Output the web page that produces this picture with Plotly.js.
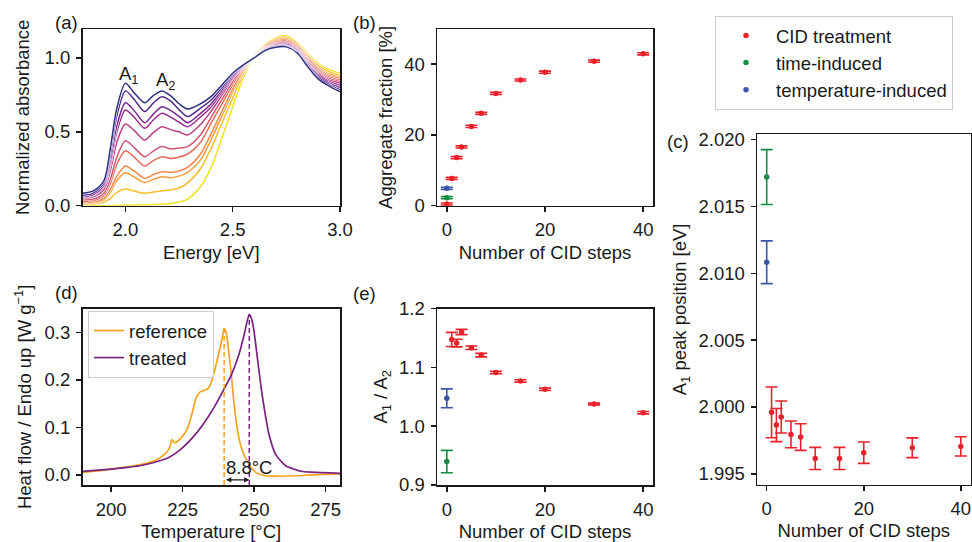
<!DOCTYPE html>
<html>
<head>
<meta charset="utf-8">
<script src="https://cdn.plot.ly/plotly-3.0.1.min.js"></script>
<style>
html,body{margin:0;padding:0;background:#fff;}
#chart{width:972px;height:542px;}
</style>
</head>
<body>
<div id="chart"></div>
<script>
// ---------------- DATA ----------------
// (a) absorbance spectra, one per number of CID steps
const energy = [1.80,1.85,1.90,1.93,1.96,2.00,2.04,2.09,2.13,2.17,2.21,2.25,2.29,2.35,2.40,2.45,2.50,2.55,2.60,2.65,2.70,2.75,2.80,2.85,2.90,2.95,3.00];
const absStep0  = [0.000,0.000,0.000,0.000,0.002,0.004,0.005,0.006,0.008,0.010,0.015,0.025,0.045,0.130,0.260,0.460,0.670,0.870,1.015,1.090,1.135,1.150,1.105,1.030,0.960,0.920,0.895];
const absStep1  = [0.010,0.012,0.025,0.050,0.090,0.113,0.100,0.084,0.092,0.100,0.107,0.120,0.155,0.250,0.390,0.560,0.730,0.895,1.012,1.085,1.128,1.140,1.098,1.020,0.948,0.905,0.880];
const absStep2  = [0.015,0.020,0.040,0.090,0.170,0.223,0.195,0.156,0.178,0.196,0.190,0.200,0.225,0.310,0.450,0.610,0.770,0.910,1.010,1.080,1.120,1.130,1.090,1.010,0.935,0.890,0.870];
const absStep3  = [0.020,0.025,0.050,0.110,0.200,0.269,0.235,0.185,0.210,0.230,0.225,0.235,0.260,0.350,0.490,0.640,0.790,0.920,1.008,1.075,1.113,1.122,1.082,1.000,0.925,0.880,0.860];
const absStep5  = [0.030,0.035,0.070,0.150,0.280,0.372,0.330,0.269,0.305,0.332,0.320,0.330,0.350,0.430,0.560,0.690,0.820,0.930,1.006,1.070,1.105,1.113,1.074,0.990,0.915,0.870,0.850];
const absStep7  = [0.040,0.045,0.085,0.180,0.330,0.440,0.395,0.332,0.370,0.400,0.385,0.390,0.400,0.480,0.600,0.720,0.840,0.935,1.005,1.065,1.098,1.105,1.066,0.980,0.905,0.860,0.840];
const absStep10 = [0.050,0.060,0.110,0.240,0.430,0.553,0.510,0.445,0.495,0.535,0.515,0.500,0.479,0.550,0.640,0.750,0.860,0.940,1.004,1.062,1.092,1.098,1.059,0.970,0.895,0.850,0.830];
const absStep15 = [0.055,0.070,0.130,0.280,0.500,0.648,0.600,0.524,0.580,0.625,0.600,0.565,0.535,0.600,0.670,0.770,0.870,0.945,1.003,1.058,1.086,1.091,1.052,0.960,0.885,0.840,0.815];
const absStep20 = [0.060,0.075,0.140,0.310,0.540,0.697,0.645,0.562,0.620,0.670,0.645,0.605,0.562,0.625,0.690,0.785,0.880,0.950,1.002,1.055,1.080,1.085,1.046,0.955,0.875,0.830,0.800];
const absStep30 = [0.070,0.085,0.155,0.350,0.610,0.777,0.720,0.637,0.695,0.738,0.710,0.650,0.603,0.660,0.715,0.800,0.890,0.950,1.001,1.052,1.076,1.080,1.040,0.945,0.865,0.820,0.785];
const absStep40 = [0.084,0.100,0.170,0.390,0.660,0.828,0.765,0.697,0.745,0.777,0.745,0.690,0.655,0.690,0.740,0.817,0.896,0.953,1.000,1.050,1.072,1.075,1.035,0.940,0.855,0.810,0.772];
const spectraColors = ['#f1e31f','#f9bd2a','#f89c3b','#f3864a','#e36c5d','#d1566f','#b93e83','#9b2c8f','#77268f','#502b8d','#2c2f82'];

// (b),(c),(e) CID treatment
const cidSteps      = [0,1,2,3,5,7,10,15,20,30,40];
const cidAggregate  = [0.47,7.7,13.6,16.6,22.4,26.1,31.7,35.5,37.7,40.8,42.9];
const cidAggErr     = [0.3,0.3,0.3,0.3,0.3,0.3,0.3,0.3,0.3,0.3,0.3];
const cidStepsPeak  = [1,2,3,5,7,10,15,20,30,40];
const cidA1Pos      = [1.9996,1.99865,1.99925,1.99795,1.99775,1.99615,1.99615,1.99658,1.99695,1.99705];
const cidA1PosErr   = [0.0019,0.00124,0.0012,0.0010,0.0010,0.00083,0.00083,0.0008,0.00074,0.00072];
const cidRatio      = [1.1476,1.1414,1.1602,1.1334,1.1209,1.0913,1.0770,1.0628,1.0378,1.0230];
const cidRatioErr   = [0.012,0.0065,0.0045,0.003,0.003,0.002,0.002,0.002,0.0015,0.002];
// time-induced
const timeStep = [0];
const timeAggregate = [2.26], timeAggErr = [0.3];
const timeA1Pos = [2.0172], timeA1PosErr = [0.00205];
const timeRatio = [0.9399], timeRatioErr = [0.019];
// temperature-induced
const tempStep = [0];
const tempAggregate = [4.9], tempAggErr = [0.3];
const tempA1Pos = [2.01083], tempA1PosErr = [0.0016];
const tempRatio = [1.0474], tempRatioErr = [0.016];

// (d) DSC heat flow
const refTemp = [190,195,200,205,210,213,216,218,219.5,220.4,221.3,222.2,223.2,225.1,226.8,228.5,229.7,230.9,232,233.2,234.3,235.5,236.7,237.8,238.9,239.5,240.2,240.9,241.9,243.0,244.2,245.9,248.2,250.5,254,258,265,270,275,280];
const refHeat = [0.005,0.008,0.012,0.016,0.021,0.025,0.032,0.040,0.048,0.057,0.074,0.067,0.070,0.082,0.099,0.134,0.162,0.173,0.177,0.179,0.185,0.204,0.232,0.260,0.290,0.308,0.300,0.270,0.218,0.148,0.092,0.050,0.022,0.005,-0.002,-0.003,-0.002,0.000,0.001,0.002];
const trtTemp = [190,200,205,210,215,220,224,228,232,236,239,242,244.5,246.5,247.5,248.3,249.2,250,251.7,253,255.2,257.5,261,264.4,267,272,280];
const trtHeat = [0.007,0.012,0.015,0.019,0.026,0.036,0.052,0.075,0.105,0.142,0.175,0.210,0.250,0.295,0.322,0.338,0.326,0.300,0.218,0.160,0.085,0.043,0.019,0.011,0.007,0.005,0.003];

// ---------------- STYLE ----------------
const RED = '#e8222b', GREEN = '#178a43', BLUE = '#3b57a6';
const ORANGE = '#f6a21e', PURPLE = '#7b2180';
const INK = '#1a1a1a';
const FS = 18.5;
const FONT = 'Liberation Sans, Arial, Helvetica, sans-serif';

const traces = [];
const spectra = [absStep0,absStep1,absStep2,absStep3,absStep5,absStep7,absStep10,absStep15,absStep20,absStep30,absStep40];
spectra.forEach((s,i)=>{
  traces.push({x:energy,y:s,xaxis:'x',yaxis:'y',mode:'lines',line:{color:'#ffffff',width:2.6,shape:'spline',smoothing:0.8},showlegend:false,hoverinfo:'skip'});
  traces.push({x:energy,y:s,xaxis:'x',yaxis:'y',mode:'lines',line:{color:spectraColors[i],width:1.5,shape:'spline',smoothing:0.8},showlegend:false});
});

function errScatter(x,y,err,color,xa,ya,name,legend){
  return {x:x,y:y,xaxis:xa,yaxis:ya,mode:'markers',name:name,
    marker:{color:color,size:5.5},
    error_y:{type:'data',array:err,visible:true,color:color,thickness:1.6,width:6},
    showlegend:!!legend,legend:'legend',legendgroup:name};
}
// (b)
traces.push(errScatter(cidSteps,cidAggregate,cidAggErr,RED,'x2','y2','CID treatment',true));
traces.push(errScatter(timeStep,timeAggregate,timeAggErr,GREEN,'x2','y2','time-induced',true));
traces.push(errScatter(tempStep,tempAggregate,tempAggErr,BLUE,'x2','y2','temperature-induced',true));
// (c)
traces.push(errScatter(cidStepsPeak,cidA1Pos,cidA1PosErr,RED,'x3','y3','CID treatment',false));
traces.push(errScatter(timeStep,timeA1Pos,timeA1PosErr,GREEN,'x3','y3','time-induced',false));
traces.push(errScatter(tempStep,tempA1Pos,tempA1PosErr,BLUE,'x3','y3','temperature-induced',false));
// (e)
traces.push(errScatter(cidStepsPeak,cidRatio,cidRatioErr,RED,'x5','y5','CID treatment',false));
traces.push(errScatter(timeStep,timeRatio,timeRatioErr,GREEN,'x5','y5','time-induced',false));
traces.push(errScatter(tempStep,tempRatio,tempRatioErr,BLUE,'x5','y5','temperature-induced',false));

// (d)
const dRange = [-0.0215,0.350];
function peak(t,h){let k=0;h.forEach((v,i)=>{if(v>h[k])k=i;});return [t[k],h[k]];}
const [refPkT,refPkH] = peak(refTemp,refHeat);
const [trtPkT,trtPkH] = peak(trtTemp,trtHeat);
traces.push({x:refTemp,y:refHeat,xaxis:'x4',yaxis:'y4',mode:'lines',name:'reference',line:{color:ORANGE,width:1.7,shape:'spline',smoothing:0.6},legend:'legend2'});
traces.push({x:trtTemp,y:trtHeat,xaxis:'x4',yaxis:'y4',mode:'lines',name:'treated',line:{color:PURPLE,width:1.7,shape:'spline',smoothing:0.6},legend:'legend2'});
traces.push({x:[refPkT,refPkT],y:[dRange[0],refPkH],xaxis:'x4',yaxis:'y4',mode:'lines',line:{color:ORANGE,width:1.5,dash:'5px,3px'},showlegend:false});
traces.push({x:[trtPkT,trtPkT],y:[dRange[0],trtPkH],xaxis:'x4',yaxis:'y4',mode:'lines',line:{color:PURPLE,width:1.5,dash:'5px,3px'},showlegend:false});

// ---------------- LAYOUT ----------------
const W=972,H=542;
const px=(x)=>x/W, py=(y)=>1-y/H;
function ax(dom, extra){
  return Object.assign({domain:dom,showline:true,mirror:true,linecolor:INK,linewidth:1.5,
    ticks:'outside',ticklen:5,tickwidth:1.5,tickcolor:INK,showgrid:false,zeroline:false,
    tickfont:{size:FS,color:INK,family:FONT},ticklabelstandoff:2,fixedrange:true},extra);
}
function ttl(t,standoff){return {text:t,font:{size:FS,color:INK,family:FONT},standoff:standoff};}

const xa = [px(82.5),px(340)], xb=[px(437),px(653)], xc=[px(757),px(970.5)];
const yTop=[py(205.7),py(29)], yBot=[py(485),py(308.6)], yC=[py(484.5),py(134.3)];

function lbl(t,x,y){return {text:t,xref:'paper',yref:'paper',x:px(x),y:py(y),xanchor:'center',yanchor:'middle',showarrow:false,font:{size:FS,color:INK}};}

const layout = {
  width:W,height:H,margin:{l:0,r:0,t:0,b:0},paper_bgcolor:'#fff',plot_bgcolor:'#fff',
  font:{family:FONT,size:FS,color:INK},
  xaxis: ax(xa,{anchor:'y',range:[1.8,3.0],tickvals:[2.0,2.5,3.0],tickformat:'.1f',title:ttl('Energy [eV]',6)}),
  yaxis: ax(yTop,{anchor:'x',range:[0,1.196],tickvals:[0,0.5,1.0],tickformat:'.1f',title:ttl('Normalized absorbance',10)}),
  xaxis2: ax(xb,{anchor:'y2',range:[-2,42],tickvals:[0,20,40],title:ttl('Number of CID steps',6)}),
  yaxis2: ax(yTop,{anchor:'x2',range:[0,49.9],tickvals:[0,20,40],title:ttl('Aggregate fraction [%]',6)}),
  xaxis3: ax(xc,{anchor:'y3',range:[-2,42],tickvals:[0,20,40],title:ttl('Number of CID steps',6)}),
  yaxis3: ax(yC,{anchor:'x3',range:[1.9942,2.0204],dtick:0.005,tick0:1.995,tickformat:'.3f',title:ttl('A<sub>1</sub> peak position [eV]',7)}),
  xaxis4: ax(xa,{anchor:'y4',range:[190,280],tickvals:[200,225,250,275],title:ttl('Temperature [°C]',6)}),
  yaxis4: ax(yBot,{anchor:'x4',range:dRange,tickvals:[0,0.1,0.2,0.3],tickformat:'.1f',title:ttl('Heat flow / Endo up [W g<sup>−1</sup>]',8)}),
  xaxis5: ax(xb,{anchor:'y5',range:[-2,42],tickvals:[0,20,40],title:ttl('Number of CID steps',6)}),
  yaxis5: ax(yBot,{anchor:'x5',range:[0.9,1.2],tickvals:[0.9,1.0,1.1,1.2],tickformat:'.1f',title:ttl('A<sub>1</sub> / A<sub>2</sub>',6)}),
  legend:{x:px(715),y:py(16),xanchor:'left',yanchor:'top',bgcolor:'#fff',bordercolor:'#cccccc',borderwidth:1,
    font:{size:FS,color:INK,family:FONT},itemwidth:50,tracegroupgap:0},
  legend2:{x:px(88),y:py(311),xanchor:'left',yanchor:'top',bgcolor:'#fff',bordercolor:'#cccccc',borderwidth:1,
    font:{size:FS,color:INK,family:FONT},itemwidth:30,tracegroupgap:0},
  showlegend:true,
  annotations:[
    lbl('(a)',66,23), lbl('(b)',364,22), lbl('(c)',678,141.5), lbl('(d)',66,292), lbl('(e)',364,293),
    {text:'A<sub>1</sub>',xref:'x',yref:'y',x:2.017,y:0.888,showarrow:false,font:{size:FS}},
    {text:'A<sub>2</sub>',xref:'x',yref:'y',x:2.19,y:0.846,showarrow:false,font:{size:FS}},
    {text:' ',xref:'x4',yref:'y4',x:trtPkT,y:-0.0105,axref:'x4',ayref:'y4',ax:refPkT,ay:-0.0105,
      showarrow:true,arrowside:'end+start',arrowhead:2,arrowsize:0.8,arrowwidth:1.3,arrowcolor:INK,font:{size:4}},
    {text:(trtPkT-refPkT).toFixed(1)+'°C',xref:'x4',yref:'y4',x:248.2,y:0.015,showarrow:false,font:{size:FS}}
  ]
};
Plotly.newPlot('chart',traces,layout,{staticPlot:true});
</script>
</body>
</html>
